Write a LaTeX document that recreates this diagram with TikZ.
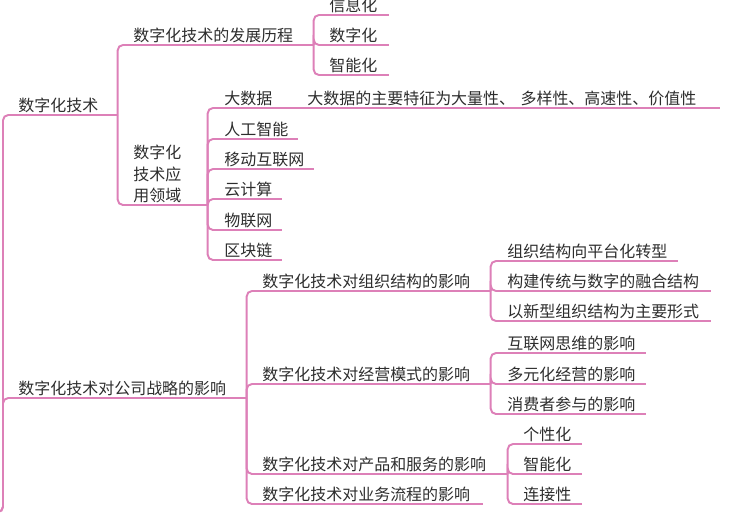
\documentclass[tikz,border=0pt]{standalone}
\usepackage{fontspec}
\setmainfont{Noto Sans CJK SC}
\definecolor{mappink}{RGB}{221,128,184}
\definecolor{maptext}{RGB}{45,45,45}
\newlength\px
\setlength\px{0.02cm}
\tikzset{
  topic/.style={anchor=south west, inner xsep=0pt, inner ysep=0.9pt, align=left, text=maptext,
    font=\fontsize{9.1pt}{12.2pt}\selectfont},
  branch/.style={draw=mappink, line width=1.1pt, rounded corners=3pt},
}
\begin{document}
\begin{tikzpicture}[x=0.02cm, y=-0.02cm]
	\clip (0,0) rectangle (740,514);
	\coordinate (root) at (-10,512);

	\node[topic, text width=99\px] (A) at (18,115) {数字化技术};
	\node[topic, text width=228\px] (B) at (18,398) {数字化技术对公司战略的影响};

	\node[topic, text width=180\px] (A1) at (133,45) {数字化技术的发展历程};
	\node[topic, text width=74\px] (A2) at (133,205) {数字化\\技术应\\用领域};

	\node[topic, text width=59\px] (A11) at (329,15) {信息化};
	\node[topic, text width=59\px] (A12) at (329,45) {数字化};
	\node[topic, text width=59\px] (A13) at (329,75) {智能化};

	\node[topic, text width=76\px] (A21) at (224,108) {大数据};
	\node[topic, text width=412\px] (A211) at (307,108) {大数据的主要特征为大量性、 多样性、高速性、价值性};
	\node[topic, text width=73\px] (A22) at (224,139) {人工智能};
	\node[topic, text width=89\px] (A23) at (224,169) {移动互联网};
	\node[topic, text width=57\px] (A24) at (224,199) {云计算};
	\node[topic, text width=57\px] (A25) at (224,230) {物联网};
	\node[topic, text width=57\px] (A26) at (224,260) {区块链};

	\node[topic, text width=228\px] (B1) at (262,291) {数字化技术对组织结构的影响};
	\node[topic, text width=228\px] (B2) at (262,384) {数字化技术对经营模式的影响};
	\node[topic, text width=245\px] (B3) at (262,474) {数字化技术对产品和服务的影响};
	\node[topic, text width=220\px] (B4) at (262,504) {数字化技术对业务流程的影响};

	\node[topic, text width=170\px] (B11) at (507,261) {组织结构向平台化转型};
	\node[topic, text width=203\px] (B12) at (507,291) {构建传统与数字的融合结构};
	\node[topic, text width=203\px] (B13) at (507,321) {以新型组织结构为主要形式};

	\node[topic, text width=138\px] (B21) at (507,353) {互联网思维的影响};
	\node[topic, text width=138\px] (B22) at (507,384) {多元化经营的影响};
	\node[topic, text width=138\px] (B23) at (507,414) {消费者参与的影响};

	\node[topic, text width=58\px] (B31) at (523,444) {个性化};
	\node[topic, text width=58\px] (B32) at (523,474) {智能化};
	\node[topic, text width=58\px] (B33) at (523,504) {连接性};

	\foreach \n in {A,B,A1,A2,A11,A12,A13,A21,A211,A22,A23,A24,A25,A26,B1,B2,B3,B4,B11,B12,B13,B21,B22,B23,B31,B32,B33}
		\draw[branch] (\n.south west) -- (\n.south east);

	\draw[branch] (root) -| ([xshift=-15\px]A.south west) -- (A.south west);
	\draw[branch] (root) -| ([xshift=-15\px]B.south west) -- (B.south west);
	\foreach \c in {A1,A2} \draw[branch] (A.south east) |- (\c.south west);
	\foreach \c in {A11,A12,A13} \draw[branch] (A1.south east) |- (\c.south west);
	\foreach \c in {A21,A22,A23,A24,A25,A26} \draw[branch] (A2.south east) |- (\c.south west);
	\draw[branch] (A21.south east) -- (A211.south west);
	\foreach \c in {B1,B2,B3,B4} \draw[branch] (B.south east) |- (\c.south west);
	\foreach \c in {B11,B12,B13} \draw[branch] (B1.south east) |- (\c.south west);
	\foreach \c in {B21,B22,B23} \draw[branch] (B2.south east) |- (\c.south west);
	\foreach \c in {B31,B32,B33} \draw[branch] (B3.south east) |- (\c.south west);
\end{tikzpicture}
\end{document}
